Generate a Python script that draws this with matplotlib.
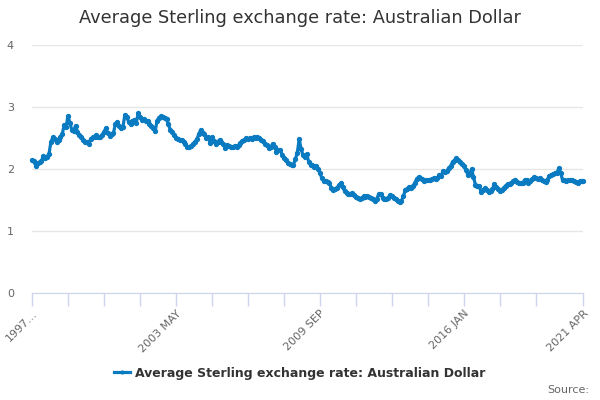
import matplotlib

matplotlib.use("Agg")
import matplotlib.pyplot as plt

# monthly average GBP/AUD, 1997 JAN .. 2021 APR
rate_1997 = [2.14, 2.13, 2.05, 2.09, 2.11, 2.13, 2.21, 2.17, 2.20, 2.25, 2.44, 2.51]
rate_1998 = [2.48, 2.44, 2.46, 2.52, 2.57, 2.71, 2.68, 2.86, 2.74, 2.63, 2.62, 2.70]
rate_1999 = [2.59, 2.55, 2.52, 2.47, 2.44, 2.43, 2.41, 2.49, 2.51, 2.52, 2.55, 2.52]
rate_2000 = [2.51, 2.55, 2.60, 2.66, 2.58, 2.54, 2.56, 2.58, 2.73, 2.76, 2.70, 2.66]
rate_2001 = [2.68, 2.87, 2.84, 2.76, 2.73, 2.77, 2.79, 2.74, 2.90, 2.84, 2.79, 2.80]
rate_2002 = [2.77, 2.78, 2.73, 2.70, 2.66, 2.61, 2.78, 2.83, 2.85, 2.84, 2.82, 2.80]
rate_2003 = [2.72, 2.63, 2.59, 2.55, 2.50, 2.49, 2.47, 2.46, 2.43, 2.40, 2.36, 2.36]
rate_2004 = [2.37, 2.41, 2.44, 2.48, 2.56, 2.63, 2.58, 2.56, 2.50, 2.52, 2.42, 2.51]
rate_2005 = [2.45, 2.41, 2.44, 2.47, 2.43, 2.40, 2.34, 2.38, 2.37, 2.35, 2.36, 2.37]
rate_2006 = [2.36, 2.38, 2.42, 2.45, 2.47, 2.50, 2.48, 2.50, 2.49, 2.51, 2.50, 2.52]
rate_2007 = [2.50, 2.47, 2.45, 2.41, 2.39, 2.34, 2.35, 2.41, 2.36, 2.28, 2.30, 2.31]
rate_2008 = [2.23, 2.17, 2.14, 2.10, 2.08, 2.07, 2.07, 2.16, 2.26, 2.48, 2.33, 2.22]
rate_2009 = [2.20, 2.24, 2.12, 2.07, 2.06, 2.04, 2.05, 2.00, 1.93, 1.85, 1.81, 1.80]
rate_2010 = [1.79, 1.77, 1.70, 1.66, 1.68, 1.70, 1.74, 1.77, 1.71, 1.64, 1.62, 1.60]
rate_2011 = [1.59, 1.61, 1.58, 1.55, 1.53, 1.52, 1.53, 1.56, 1.55, 1.56, 1.55, 1.53]
rate_2012 = [1.51, 1.49, 1.52, 1.60, 1.59, 1.54, 1.51, 1.52, 1.54, 1.58, 1.56, 1.54]
rate_2013 = [1.52, 1.49, 1.46, 1.49, 1.56, 1.66, 1.68, 1.71, 1.70, 1.73, 1.77, 1.84]
rate_2014 = [1.87, 1.85, 1.84, 1.81, 1.82, 1.82, 1.83, 1.84, 1.85, 1.84, 1.86, 1.91]
rate_2015 = [1.89, 1.97, 1.95, 1.97, 2.02, 2.05, 2.12, 2.14, 2.17, 2.14, 2.12, 2.08]
rate_2016 = [2.05, 1.98, 1.91, 1.92, 2.00, 1.87, 1.75, 1.73, 1.72, 1.63, 1.66, 1.69]
rate_2017 = [1.66, 1.63, 1.64, 1.67, 1.76, 1.71, 1.67, 1.65, 1.66, 1.70, 1.73, 1.76]
rate_2018 = [1.76, 1.78, 1.80, 1.83, 1.79, 1.78, 1.77, 1.78, 1.82, 1.83, 1.78, 1.80]
rate_2019 = [1.84, 1.87, 1.85, 1.84, 1.85, 1.82, 1.80, 1.79, 1.83, 1.89, 1.90, 1.92]
rate_2020 = [1.93, 1.94, 2.01, 1.94, 1.82, 1.82, 1.81, 1.83, 1.82, 1.82, 1.81, 1.79]
rate_2021 = [1.78, 1.80, 1.80, 1.80]

rates = (
    rate_1997 + rate_1998 + rate_1999 + rate_2000 + rate_2001 + rate_2002
    + rate_2003 + rate_2004 + rate_2005 + rate_2006 + rate_2007 + rate_2008
    + rate_2009 + rate_2010 + rate_2011 + rate_2012 + rate_2013 + rate_2014
    + rate_2015 + rate_2016 + rate_2017 + rate_2018 + rate_2019 + rate_2020
    + rate_2021
)

months = ["JAN", "FEB", "MAR", "APR", "MAY", "JUN",
          "JUL", "AUG", "SEP", "OCT", "NOV", "DEC"]
categories = [f"{1997 + i // 12} {months[i % 12]}" for i in range(len(rates))]

tick_idx = list(range(0, 267, 19)) + [len(rates) - 1]
label_idx = [0, 76, 152, 228, len(rates) - 1]
tick_labels = []
for i in tick_idx:
    if i == 0:
        tick_labels.append("1997…")
    elif i in label_idx:
        tick_labels.append(categories[i])
    else:
        tick_labels.append("")

line_color = "#0a7bc1"
grid_color = "#e6e6e6"
axis_color = "#ccd6eb"
text_grey = "#666666"

fig = plt.figure(figsize=(6, 4), dpi=100)
ax = fig.add_axes([32 / 600, 1 - 293 / 400, (583.4 - 32) / 600, (293 - 45) / 400])

x = list(range(len(rates)))
ax.plot(x, rates, color=line_color, linewidth=2.3, marker="o", markersize=2.8,
        label="Average Sterling exchange rate: Australian Dollar", clip_on=False)

ax.set_xlim(0, len(rates) - 1)
ax.set_ylim(0, 4)
ax.set_yticks([0, 1, 2, 3, 4])
ax.yaxis.grid(True, color=grid_color, linewidth=1)
ax.set_axisbelow(True)
ax.tick_params(axis="y", length=0, pad=13, labelsize=8, labelcolor=text_grey)

ax.set_xticks(tick_idx)
ax.set_xticklabels(tick_labels)
ax.tick_params(axis="x", length=9, color=axis_color, width=1, pad=2,
               labelsize=8, labelcolor=text_grey)
plt.setp(ax.get_xticklabels(), rotation=45, ha="right", rotation_mode="anchor")

for side in ["top", "right", "left"]:
    ax.spines[side].set_visible(False)
ax.spines["bottom"].set_color(axis_color)

fig.text(0.5, 1 - 18 / 400, "Average Sterling exchange rate: Australian Dollar",
         ha="center", va="center", fontsize=12.8, color="#333333")

ax.legend(loc="center", frameon=False, handlelength=1.3,
          handletextpad=0.4, prop={"size": 9, "weight": "bold"},
          labelcolor="#333333", markerscale=0.7)
ax.get_legend().set_bbox_to_anchor((0.5, 1 - 373 / 400), transform=fig.transFigure)

fig.text(589 / 600, 1 - 390 / 400, "Source:", ha="right", va="center",
         fontsize=8, color=text_grey)

plt.savefig("out.png", dpi=100)
